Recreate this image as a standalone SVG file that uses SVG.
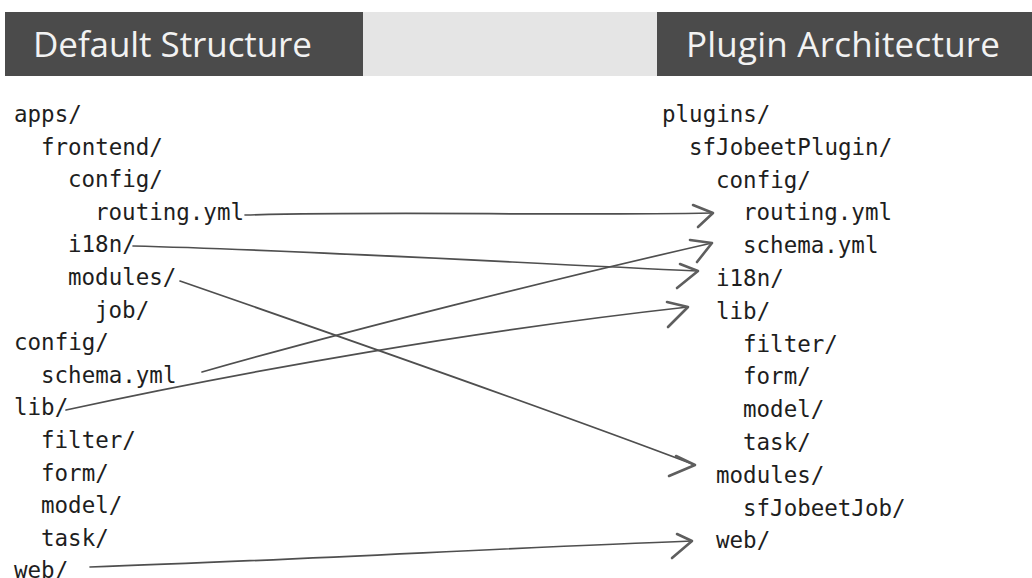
<svg xmlns="http://www.w3.org/2000/svg" width="1032" height="578" viewBox="0 0 1032 578">
  <style>
    .hdr { fill: #4b4b4b; }
    .band { fill: #e5e5e5; }
    .htxt { font-family: "Open Sans", "Noto Sans", "Liberation Sans", sans-serif; font-size: 35px; fill: #f2f2f2; }
    .t { font-family: "DejaVu Sans Mono", "Liberation Mono", monospace; font-size: 22.5px; fill: #1e1e1e; }
    .ln { fill: none; stroke: #4f4f4f; stroke-width: 1.7; stroke-linecap: round; }
    .ah { fill: none; stroke: #5e5e5e; stroke-width: 2.6; stroke-linecap: round; stroke-linejoin: round; }
  </style>
  <rect width="1032" height="578" fill="#ffffff"/>

  <g id="header">
    <rect class="band" x="362" y="12" width="296" height="64"/>
    <rect class="hdr" x="5" y="12" width="358" height="64"/>
    <rect class="hdr" x="657" y="12" width="375" height="64"/>
    <text class="htxt" x="33" y="57" textLength="279" lengthAdjust="spacing">Default Structure</text>
    <text class="htxt" x="686" y="57" textLength="314" lengthAdjust="spacing">Plugin Architecture</text>
  </g>

  <g id="left-tree">
    <g id="l-apps"><text class="t" x="14" y="122">apps/</text></g>
    <g id="l-frontend"><text class="t" x="41" y="154.6">frontend/</text></g>
    <g id="l-config"><text class="t" x="68" y="187.2">config/</text></g>
    <g id="l-routing"><text class="t" x="95" y="219.8">routing.yml</text></g>
    <g id="l-i18n"><text class="t" x="68" y="252.4">i18n/</text></g>
    <g id="l-modules"><text class="t" x="68" y="285">modules/</text></g>
    <g id="l-job"><text class="t" x="95" y="317.6">job/</text></g>
    <g id="l-config-root"><text class="t" x="14" y="350.2">config/</text></g>
    <g id="l-schema"><text class="t" x="41" y="382.8">schema.yml</text></g>
    <g id="l-lib"><text class="t" x="14" y="415.4">lib/</text></g>
    <g id="l-filter"><text class="t" x="41" y="448">filter/</text></g>
    <g id="l-form"><text class="t" x="41" y="480.6">form/</text></g>
    <g id="l-model"><text class="t" x="41" y="513.2">model/</text></g>
    <g id="l-task"><text class="t" x="41" y="545.8">task/</text></g>
    <g id="l-web"><text class="t" x="14" y="578.4">web/</text></g>
  </g>

  <g id="right-tree">
    <g id="r-plugins"><text class="t" x="662" y="122">plugins/</text></g>
    <g id="r-sfJobeetPlugin"><text class="t" x="689" y="154.8">sfJobeetPlugin/</text></g>
    <g id="r-config"><text class="t" x="716" y="187.6">config/</text></g>
    <g id="r-routing"><text class="t" x="743" y="220.4">routing.yml</text></g>
    <g id="r-schema"><text class="t" x="743" y="253.2">schema.yml</text></g>
    <g id="r-i18n"><text class="t" x="716" y="286">i18n/</text></g>
    <g id="r-lib"><text class="t" x="716" y="318.8">lib/</text></g>
    <g id="r-filter"><text class="t" x="743" y="351.6">filter/</text></g>
    <g id="r-form"><text class="t" x="743" y="384.4">form/</text></g>
    <g id="r-model"><text class="t" x="743" y="417.2">model/</text></g>
    <g id="r-task"><text class="t" x="743" y="450">task/</text></g>
    <g id="r-modules"><text class="t" x="716" y="482.8">modules/</text></g>
    <g id="r-sfJobeetJob"><text class="t" x="743" y="515.6">sfJobeetJob/</text></g>
    <g id="r-web"><text class="t" x="716" y="548.4">web/</text></g>
  </g>

  <g id="connectors">
    <path class="ln" d="M245,215 C400,211 550,216 713,213"/>
    <path class="ah" d="M693,205 L713,213 L698,227"/>

    <path class="ln" d="M133,246 C300,250 500,262 698,271"/>
    <path class="ah" d="M680,264 L698,271 L677,288"/>

    <path class="ln" d="M180,281 C350,340 550,410 695,465"/>
    <path class="ah" d="M676,456 L695,465 L669,476"/>

    <path class="ln" d="M202,372 C350,330 550,280 712,243"/>
    <path class="ah" d="M690,240 L712,243 L697,262"/>

    <path class="ln" d="M66,410 C250,370 480,330 688,307"/>
    <path class="ah" d="M667,302 L688,307 L668,327"/>

    <path class="ln" d="M90,567 C300,560 500,548 692,541"/>
    <path class="ah" d="M677,534 L692,541 L672,558"/>
  </g>
</svg>
